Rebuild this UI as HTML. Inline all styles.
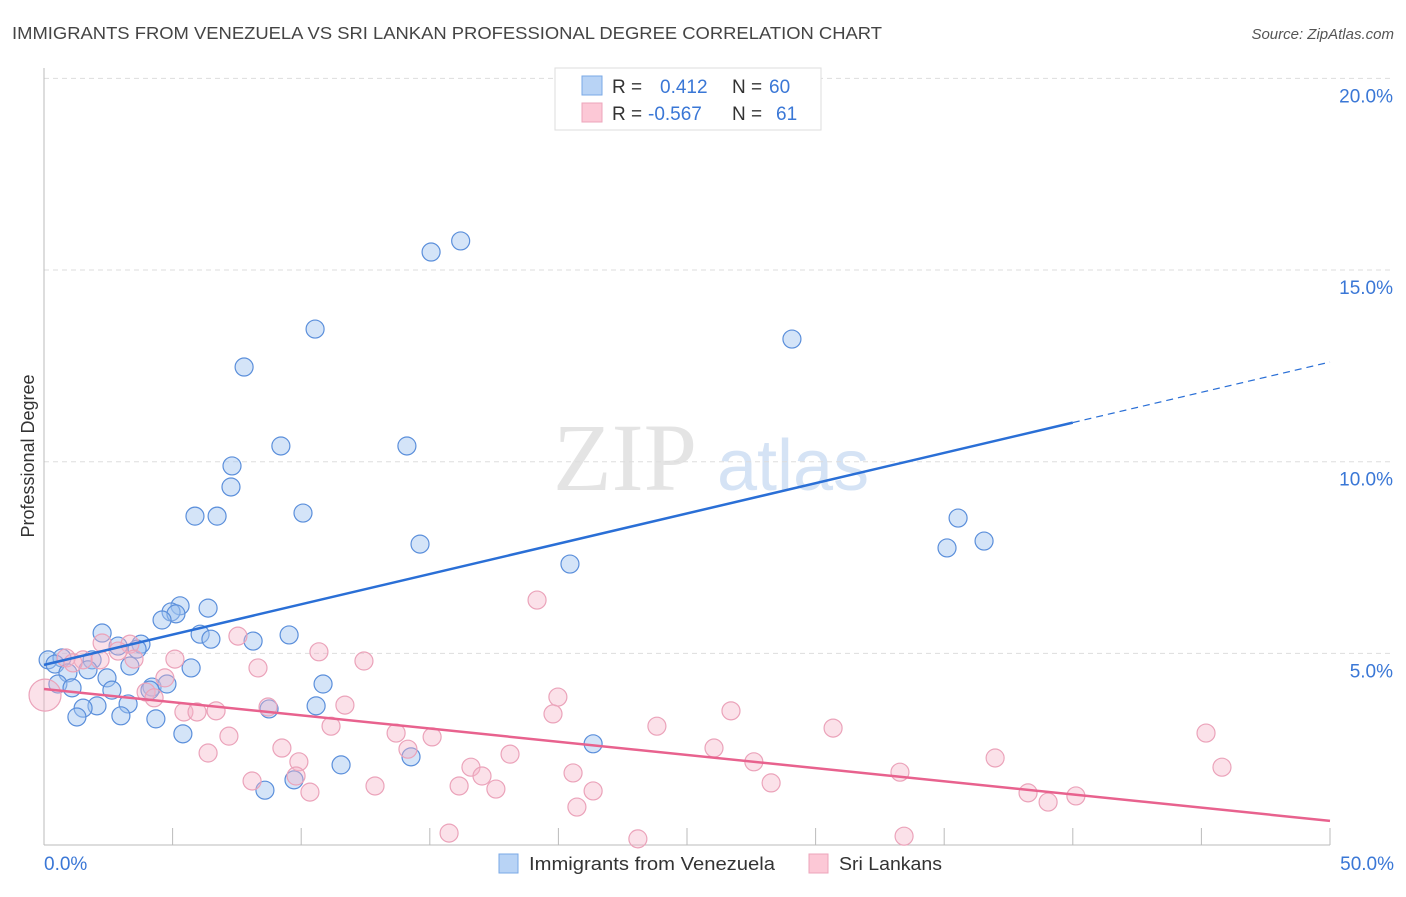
<!DOCTYPE html>
<html><head><meta charset="utf-8"><style>
body{margin:0;background:#fff;font-family:"Liberation Sans",sans-serif}
</style></head><body>
<svg id="c" width="1406" height="892" xmlns="http://www.w3.org/2000/svg" style="font-family:'Liberation Sans',sans-serif">
<text x="12" y="39" font-size="17.5" fill="#444" textLength="870" lengthAdjust="spacingAndGlyphs">IMMIGRANTS FROM VENEZUELA VS SRI LANKAN PROFESSIONAL DEGREE CORRELATION CHART</text>
<text x="1394" y="39" font-size="15" fill="#555" font-style="italic" text-anchor="end">Source: ZipAtlas.com</text>
<g>
<text x="553" y="490" font-size="96" font-family="'Liberation Serif',serif" fill="#e4e4e4">ZIP</text>
<text x="717" y="490" font-size="72" fill="#d5e3f5">atlas</text>
</g>
<g id="grid"></g>
<g id="axes"></g>
<g id="pts"></g>
<g id="lines"></g>
<text transform="translate(34,456) rotate(-90)" font-size="18" fill="#333" text-anchor="middle">Professional Degree</text>
<g>
<rect x="555" y="68" width="266" height="62" fill="#fff" stroke="#ddd"/>
<rect x="582" y="76" width="20" height="19" fill="#b8d3f5" stroke="#7aa8e6"/>
<rect x="582" y="103" width="20" height="19" fill="#fcc8d6" stroke="#eda5bb"/>
<text x="612" y="93" font-size="19" fill="#333">R =</text>
<text x="660" y="93" font-size="19" fill="#3a77d6">0.412</text>
<text x="732" y="93" font-size="19" fill="#333">N =</text>
<text x="769" y="93" font-size="19" fill="#3a77d6">60</text>
<text x="612" y="120" font-size="19" fill="#333">R =</text>
<text x="648" y="120" font-size="19" fill="#3a77d6">-0.567</text>
<text x="732" y="120" font-size="19" fill="#333">N =</text>
<text x="776" y="120" font-size="19" fill="#3a77d6">61</text>
</g>
<g>
<rect x="499" y="854" width="19" height="19" fill="#b8d3f5" stroke="#7aa8e6"/>
<text x="529" y="870" font-size="18" fill="#333" textLength="246" lengthAdjust="spacingAndGlyphs">Immigrants from Venezuela</text>
<rect x="809" y="854" width="19" height="19" fill="#fcc8d6" stroke="#eda5bb"/>
<text x="839" y="870" font-size="18" fill="#333" textLength="103" lengthAdjust="spacingAndGlyphs">Sri Lankans</text>
</g>
</svg>
<script>
const yTicks=[5,10,15,20];
const yTickLabels=["5.0%","10.0%","15.0%","20.0%"];
const xTicks=[0,5,10,15,20,25,30,35,40,45,50];
const blueX=[16.2,15.05,10.54,29.08,7.78,9.21,14.11,7.31,7.27,5.87,6.73,10.07,14.62,35.54,35.11,36.55,20.45,5.29,6.38,4.94,5.13,4.59,2.26,6.07,6.49,9.53,8.13,3.77,2.88,3.62,0.16,0.7,0.43,1.87,5.72,3.34,1.71,0.93,2.45,10.85,0.54,1.09,2.64,4.2,4.12,4.78,3.27,2.06,1.52,8.75,10.58,4.35,2.99,1.28,5.4,21.35,14.27,11.55,8.59,9.72];
const blueY=[15.76,15.47,13.46,13.2,12.47,10.41,10.41,9.89,9.34,8.58,8.58,8.66,7.85,8.53,7.75,7.93,7.33,6.24,6.18,6.08,6.03,5.87,5.53,5.5,5.37,5.48,5.32,5.24,5.19,5.11,4.83,4.88,4.72,4.83,4.62,4.67,4.57,4.49,4.36,4.2,4.2,4.1,4.04,4.12,4.04,4.2,3.68,3.63,3.57,3.55,3.63,3.29,3.37,3.34,2.9,2.64,2.3,2.09,1.43,1.7];
const pinkX=[19.17,0.04,7.54,10.69,12.44,5.09,8.32,3.34,2.26,2.88,2.18,1.52,0.86,1.13,3.5,19.98,11.7,19.79,8.71,3.97,4.28,4.7,5.44,5.95,6.69,7.19,6.38,9.25,9.91,11.16,13.69,14.15,15.09,23.83,26.71,26.05,30.68,27.6,36.98,45.18,45.8,33.28,16.6,17.03,18.12,17.57,20.57,8.09,9.8,10.34,12.87,16.14,21.35,20.72,28.27,38.26,39.04,40.12,15.75,23.09,33.44];
const pinkY=[6.39,3.91,5.45,5.04,4.8,4.85,4.62,5.24,5.27,5.06,4.83,4.83,4.88,4.75,4.85,3.86,3.65,3.42,3.6,3.99,3.84,4.36,3.47,3.47,3.5,2.84,2.4,2.53,2.17,3.1,2.92,2.5,2.82,3.1,3.5,2.53,3.05,2.17,2.27,2.92,2.03,1.9,2.03,1.8,2.37,1.46,1.88,1.67,1.8,1.38,1.54,1.54,1.41,0.99,1.62,1.36,1.12,1.28,0.31,0.16,0.23];
const blueTrend=[4.7,12.6];
const pinkTrend=[4.07,0.63];
const NS='http://www.w3.org/2000/svg';
const X=v=>44+v*25.72, Y=v=>845-v*38.33;
function mk(t,a,p){const e=document.createElementNS(NS,t);for(const k in a)e.setAttribute(k,a[k]);document.getElementById(p).appendChild(e);return e;}
yTicks.forEach((t,i)=>{
 const g=mk('line',{x1:44,x2:1394,y1:Y(t),y2:Y(t),stroke:'#ddd','stroke-dasharray':'5,4'},'grid');
 
 
 const l=mk('text',{x:1393,y:Y(t)+24,'font-size':19,fill:'#3a77d6','text-anchor':'end'},'grid');
 l.textContent=yTickLabels[i];
 
 
});
const ya=mk('line',{x1:44,x2:44,y1:68,y2:845,stroke:'#bbb'},'axes');


const xa=mk('line',{x1:44,x2:1330,y1:845,y2:845,stroke:'#bbb'},'axes');


xTicks.forEach(t=>{const k=mk('line',{x1:X(t),x2:X(t),y1:828,y2:845,stroke:'#bbb'},'axes');
 
 });
const xl0=mk('text',{x:44,y:870,'font-size':19,fill:'#3a77d6'},'axes');xl0.textContent='0.0%';


const xl1=mk('text',{x:1394,y:870,'font-size':19,fill:'#3a77d6','text-anchor':'end'},'axes');xl1.textContent='50.0%';


blueX.forEach((v,i)=>{const c=mk('circle',{cx:X(v),cy:Y(blueY[i]),r:9,fill:'rgba(160,195,240,0.45)',stroke:'#5b8fdb','stroke-width':1.2},'pts');
 
 });
pinkX.forEach((v,i)=>{const c=mk('circle',{cx:X(v),cy:Y(pinkY[i]),r:i==1?16:9,fill:'rgba(245,180,200,0.4)',stroke:'#eba3ba','stroke-width':1.2},'pts');
 
 });
const bAt=x=>blueTrend[0]+(blueTrend[1]-blueTrend[0])*x/50;
const b1=mk('line',{x1:X(0),y1:Y(bAt(0)),x2:X(40),y2:Y(bAt(40)),stroke:'#2a6fd6','stroke-width':2.5},'lines');


const b2=mk('line',{x1:X(40),y1:Y(bAt(40)),x2:X(50),y2:Y(bAt(50)),stroke:'#2a6fd6','stroke-width':1.2,'stroke-dasharray':'7,5'},'lines');


const p1=mk('line',{x1:X(0),y1:Y(pinkTrend[0]),x2:X(50),y2:Y(pinkTrend[1]),stroke:'#e8628e','stroke-width':2.5},'lines');


</script>
</body></html>
